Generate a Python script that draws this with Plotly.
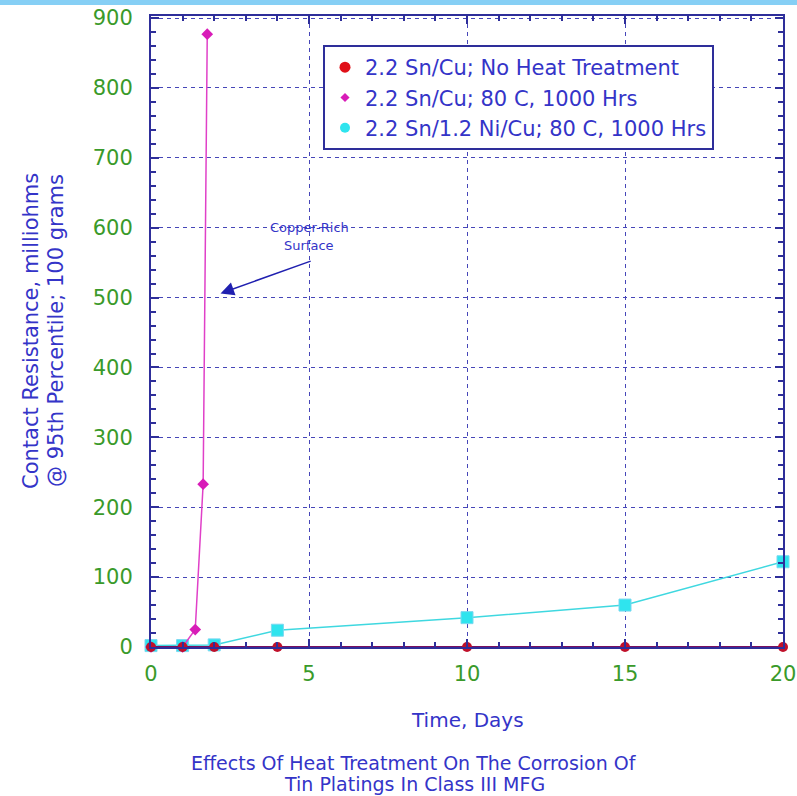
import plotly.graph_objects as go

# Time in days and 95th-percentile contact resistance (milliohms)
days_no_heat = [0, 1, 2, 4, 10, 15, 20]
res_no_heat = [0, 0, 0, 0, 0, 0, 0]

days_sn_cu_80c = [0, 1, 1.4, 1.65, 1.78]
res_sn_cu_80c = [0, 0, 25, 233, 877]

days_sn_ni_cu_80c = [0, 1, 2, 4, 10, 15, 20]
res_sn_ni_cu_80c = [2, 2, 3, 24, 42, 60, 122]

series_names = [
    "2.2 Sn/Cu; No Heat Treatment",
    "2.2 Sn/Cu; 80 C, 1000 Hrs",
    "2.2 Sn/1.2 Ni/Cu; 80 C, 1000 Hrs",
]

x_ticks = [0, 5, 10, 15, 20]
y_ticks = [0, 100, 200, 300, 400, 500, 600, 700, 800, 900]

y_title_lines = ["Contact Resistance, milliohms", "@ 95th Percentile; 100 grams"]
caption_lines = ["Effects Of Heat Treatment On The Corrosion Of",
                 "Tin Platings In Class III MFG"]
note_lines = ["Copper-Rich", "Surface"]

FONT = "DejaVu Sans, Verdana, sans-serif"
NAVY = "#2e2e9a"
GRID = "#4646b8"
TEXT_BLUE = "#3434c8"
GREEN = "#3a9a2a"

RED = "#c0102a"
MAGENTA = "#d81cb8"
CYAN = "#2fe4ee"

# plot area in pixels (for placing paper-referenced text)
L, R, T, B = 151, 14, 16, 149
W, H = 797, 796
PW, PH = W - L - R, H - T - B


def px_x(px):
    return (px - L) / PW


def px_y(py):
    return (H - B - py) / PH


fig = go.Figure()

# data traces (legend entries are drawn by marker-only traces below)
fig.add_trace(go.Scatter(
    x=days_sn_ni_cu_80c, y=res_sn_ni_cu_80c, name=series_names[2],
    mode="lines+markers", cliponaxis=False, showlegend=False,
    line=dict(color="#3fd8e0", width=1.5),
    marker=dict(symbol="square", size=12, color=CYAN,
                line=dict(color="#7ad8f0", width=1)),
))
fig.add_trace(go.Scatter(
    x=days_sn_cu_80c, y=res_sn_cu_80c, name=series_names[1],
    mode="lines+markers", cliponaxis=False, showlegend=False,
    line=dict(color="#e040c8", width=1.5),
    marker=dict(symbol="diamond", size=9, color=MAGENTA),
))
fig.add_trace(go.Scatter(
    x=days_no_heat, y=res_no_heat, name=series_names[0],
    mode="lines+markers", cliponaxis=False, showlegend=False,
    line=dict(color="#7a1060", width=2),
    marker=dict(symbol="circle", size=10, color=RED),
))

# legend keys: marker only
legend_styles = [
    dict(symbol="circle", size=11, color="#e01018"),
    dict(symbol="diamond", size=7, color=MAGENTA),
    dict(symbol="circle", size=10, color=CYAN),
]
for name, mk in zip(series_names, legend_styles):
    fig.add_trace(go.Scatter(x=[None], y=[None], name=name, mode="markers",
                             marker=mk, showlegend=True))

axis_common = dict(
    showline=True, linecolor=NAVY, linewidth=2, mirror="ticks",
    ticks="inside", tickcolor=NAVY, tickwidth=2, ticklen=8,
    showgrid=True, gridcolor=GRID, griddash="4px,4px", gridwidth=1.3,
    zeroline=False, automargin=False,
    tickfont=dict(family=FONT, size=21, color=GREEN),
)

fig.update_xaxes(
    range=[0, 20], tickvals=x_ticks, ticktext=[str(v) for v in x_ticks],
    minor=dict(dtick=1, ticks="inside", ticklen=5, tickcolor=NAVY, tickwidth=1.5,
               showgrid=False),
    ticklabelstandoff=7,
    **axis_common,
)
fig.update_yaxes(
    range=[0, 903], tickvals=y_ticks, ticktext=[str(v) for v in y_ticks],
    minor=dict(dtick=20, ticks="inside", ticklen=5, tickcolor=NAVY, tickwidth=1.5,
               showgrid=False),
    ticklabelstandoff=12,
    **axis_common,
)

annotations = []
for line, xp in zip(y_title_lines, [31, 56]):
    annotations.append(dict(
        text=line, xref="paper", yref="paper", x=px_x(xp), y=px_y(331),
        textangle=-90, showarrow=False,
        font=dict(family=FONT, size=21, color=TEXT_BLUE),
        xanchor="center", yanchor="middle"))
annotations.append(dict(
    text="Time, Days", xref="paper", yref="paper", x=px_x(467), y=px_y(720),
    showarrow=False, font=dict(family=FONT, size=20, color=TEXT_BLUE),
    xanchor="center", yanchor="middle"))
for line, yp in zip(caption_lines, [763, 784]):
    annotations.append(dict(
        text=line, xref="paper", yref="paper", x=px_x(414), y=px_y(yp),
        showarrow=False, font=dict(family=FONT, size=19, color=TEXT_BLUE),
        xanchor="center", yanchor="middle"))
for line, yp in zip(note_lines, [227, 245]):
    annotations.append(dict(
        text=line, xref="paper", yref="paper", x=px_x(309), y=px_y(yp),
        showarrow=False, font=dict(family=FONT, size=13, color=TEXT_BLUE),
        xanchor="center", yanchor="middle"))
annotations.append(dict(
    text="", x=2.2, y=506, ax=5.1, ay=553, axref="x", ayref="y",
    xref="x", yref="y", showarrow=True, arrowhead=2, arrowsize=1.8,
    arrowwidth=1.5, arrowcolor="#2020b0"))

fig.update_layout(
    width=W, height=H,
    margin=dict(l=L, r=R, t=T, b=B),
    paper_bgcolor="white", plot_bgcolor="white",
    showlegend=True,
    legend=dict(
        x=px_x(323), y=px_y(45), xanchor="left", yanchor="top",
        bgcolor="white", bordercolor=NAVY, borderwidth=2,
        font=dict(family=FONT, size=21, color=TEXT_BLUE),
        itemwidth=30, tracegroupgap=0,
    ),
    annotations=annotations,
    shapes=[dict(type="rect", xref="paper", yref="paper",
                 x0=-0.5, x1=1.5, y0=px_y(5), y1=px_y(-10),
                 fillcolor="#86cff5", line=dict(width=0), layer="above")],
)

fig.write_html("out.html")
